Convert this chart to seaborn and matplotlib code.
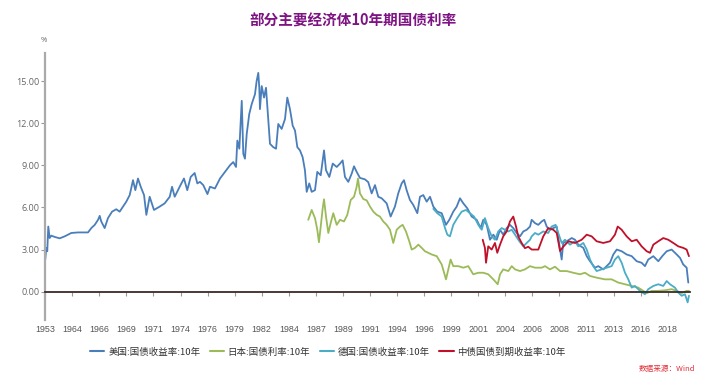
import numpy as np
import pandas as pd
import matplotlib
matplotlib.use("Agg")
import matplotlib.pyplot as plt
import seaborn as sns

# ---------------- data (decimal year, yield %) ----------------
us_date = [1953.34, 1953.75, 1954.15, 1954.56, 1955.13, 1955.78, 1957.16, 1959.19, 1961.22, 1963.91,
           1964.82, 1965.73, 1966.03, 1966.34, 1966.64, 1966.79, 1966.93, 1967.24, 1967.54, 1967.91,
           1968.29, 1968.60, 1968.90, 1969.20, 1969.51, 1969.81, 1970.02, 1970.26, 1970.51, 1970.81,
           1971.02, 1971.32, 1971.71, 1972.23, 1972.68, 1973.14, 1973.35, 1973.59, 1974.04, 1974.43,
           1974.73, 1975.04, 1975.40, 1975.64, 1975.88, 1976.18, 1976.56, 1976.79, 1977.24, 1977.70,
           1978.15, 1978.60, 1978.90, 1979.15, 1979.27, 1979.45, 1979.67, 1979.81, 1979.96, 1980.12,
           1980.35, 1980.57, 1980.87, 1981.02, 1981.17, 1981.26, 1981.32, 1981.48, 1981.69, 1981.87,
           1982.08, 1982.23, 1982.53, 1982.78, 1982.98, 1983.29, 1983.59, 1983.80, 1984.04, 1984.29,
           1984.50, 1984.71, 1984.95, 1985.19, 1985.40, 1985.56, 1985.79, 1986.01, 1986.31, 1986.52,
           1986.83, 1987.13, 1987.31, 1987.61, 1987.92, 1988.28, 1988.58, 1988.82, 1989.03, 1989.33,
           1989.64, 1989.85, 1990.09, 1990.39, 1990.84, 1991.14, 1991.45, 1991.75, 1992.05, 1992.36,
           1992.81, 1993.17, 1993.56, 1993.86, 1994.17, 1994.38, 1994.62, 1994.92, 1995.22, 1995.59,
           1995.83, 1996.13, 1996.44, 1996.74, 1997.04, 1997.40, 1997.80, 1998.19, 1998.49, 1998.85,
           1999.16, 1999.46, 1999.76, 2000.12, 2000.52, 2000.97, 2001.33, 2001.57, 2001.88, 2002.18,
           2002.48, 2002.79, 2003.09, 2003.38, 2003.69, 2003.99, 2004.29, 2004.60, 2004.90, 2005.20,
           2005.51, 2005.81, 2005.96, 2006.26, 2006.56, 2006.87, 2007.10, 2007.32, 2007.62, 2007.92,
           2008.23, 2008.53, 2008.68, 2008.82, 2009.13, 2009.59, 2009.89, 2010.18, 2010.64, 2010.95,
           2011.25, 2011.70, 2012.00, 2012.45, 2012.76, 2013.06, 2013.36, 2013.67, 2014.12, 2014.57,
           2015.03, 2015.48, 2015.93, 2016.23, 2016.53, 2016.99, 2017.44, 2017.80, 2018.20, 2018.65,
           2019.11, 2019.41, 2019.70, 2020.01, 2020.16]
us_yield = [2.29, 3.12, 2.88, 4.64, 3.82, 3.99, 3.90, 3.80, 3.94, 4.18,
            4.22, 4.22, 4.53, 4.76, 5.12, 5.40, 5.00, 4.53, 5.24, 5.70,
            5.87, 5.70, 6.06, 6.41, 6.88, 7.94, 7.23, 8.06, 7.47, 6.88,
            5.47, 6.76, 5.82, 6.06, 6.29, 6.76, 7.47, 6.76, 7.47, 8.06,
            7.23, 8.17, 8.45, 7.71, 7.82, 7.59, 6.95, 7.47, 7.35, 8.06,
            8.53, 9.00, 9.23, 8.88, 10.76, 10.18, 13.59, 9.82, 9.47, 11.23,
            12.65, 13.35, 14.06, 15.00, 15.58, 14.52, 13.00, 14.64, 13.82, 14.52,
            12.17, 10.53, 10.29, 10.18, 11.94, 11.59, 12.29, 13.82, 13.00, 11.82,
            11.47, 10.29, 10.06, 9.58, 8.65, 7.11, 7.71, 7.11, 7.23, 8.53,
            8.29, 10.06, 8.65, 8.17, 9.12, 8.88, 9.12, 9.35, 8.17, 7.82,
            8.41, 8.93, 8.53, 8.10, 8.00, 7.80, 7.00, 7.59, 6.76, 6.65,
            6.29, 5.35, 6.06, 7.00, 7.71, 7.94, 7.23, 6.53, 6.18, 5.59,
            6.76, 6.88, 6.41, 6.76, 6.06, 5.70, 5.59, 4.76, 5.12, 5.70,
            6.06, 6.65, 6.29, 5.94, 5.35, 5.12, 4.53, 5.12, 4.76, 3.70,
            4.06, 3.70, 4.41, 4.06, 4.53, 4.76, 4.53, 4.18, 3.94, 4.29,
            4.41, 4.64, 5.12, 4.88, 4.76, 5.00, 5.12, 4.64, 4.40, 4.53,
            4.64, 3.00, 2.29, 3.47, 3.59, 3.82, 3.70, 3.35, 3.12, 2.53,
            2.17, 1.71, 1.82, 1.59, 1.82, 2.06, 2.65, 3.00, 2.88, 2.65,
            2.53, 2.17, 2.06, 1.82, 2.29, 2.53, 2.17, 2.53, 2.88, 3.00,
            2.65, 2.41, 1.94, 1.71, 0.65]

jp_date = [1985.70, 1986.01, 1986.31, 1986.52, 1986.67, 1986.83, 1987.01, 1987.13, 1987.31, 1987.52,
           1987.73, 1987.97, 1988.28, 1988.58, 1988.94, 1989.24, 1989.55, 1989.85, 1990.09, 1990.21,
           1990.39, 1990.69, 1991.00, 1991.30, 1991.60, 1991.91, 1992.20, 1992.50, 1992.81, 1993.11,
           1993.41, 1993.72, 1994.02, 1994.26, 1994.56, 1994.86, 1995.08, 1995.38, 1995.68, 1995.99,
           1996.28, 1996.58, 1996.89, 1997.35, 1997.80, 1998.19, 1998.40, 1998.61, 1998.85, 1999.30,
           1999.76, 2000.21, 2000.66, 2001.12, 2001.57, 2002.02, 2002.48, 2002.88, 2003.09, 2003.38,
           2003.84, 2004.15, 2004.45, 2004.90, 2005.35, 2005.81, 2006.26, 2006.87, 2007.17, 2007.62,
           2008.07, 2008.53, 2009.13, 2009.73, 2010.34, 2010.79, 2011.25, 2011.85, 2012.60, 2013.21,
           2013.81, 2014.42, 2015.03, 2015.62, 2016.08, 2016.39, 2016.84, 2017.44, 2018.05, 2018.65,
           2019.11, 2019.56, 2020.01, 2020.22]
jp_yield = [5.12, 5.82, 5.24, 4.41, 3.52, 4.64, 5.94, 6.58, 5.35, 4.18,
            4.88, 5.59, 4.76, 5.12, 5.00, 5.47, 6.53, 6.76, 7.47, 8.06,
            7.00, 6.60, 6.50, 6.06, 5.70, 5.47, 5.35, 5.00, 4.76, 4.41,
            3.47, 4.41, 4.64, 4.76, 4.29, 3.59, 3.00, 3.12, 3.35, 3.12,
            2.88, 2.77, 2.65, 2.53, 1.94, 0.88, 1.59, 2.29, 1.82, 1.82,
            1.71, 1.82, 1.24, 1.35, 1.35, 1.24, 0.88, 0.53, 1.24, 1.59,
            1.47, 1.82, 1.59, 1.47, 1.59, 1.82, 1.71, 1.71, 1.82, 1.59,
            1.78, 1.47, 1.47, 1.35, 1.24, 1.35, 1.12, 1.00, 0.88, 0.88,
            0.65, 0.53, 0.41, 0.29, 0.06, -0.10, 0.06, 0.06, 0.10, 0.18,
            0.06, -0.10, 0.06, 0.06]

de_date = [1997.04, 1997.40, 1997.80, 1998.10, 1998.31, 1998.55, 1998.85, 1999.21, 1999.61, 2000.00,
           2000.36, 2000.73, 2001.12, 2001.43, 2001.72, 2002.02, 2002.33, 2002.63, 2002.93, 2003.24,
           2003.54, 2003.84, 2004.15, 2004.45, 2004.84, 2005.20, 2005.51, 2005.81, 2005.96, 2006.26,
           2006.56, 2007.01, 2007.46, 2007.77, 2008.13, 2008.37, 2008.68, 2008.98, 2009.43, 2009.89,
           2010.18, 2010.64, 2010.95, 2011.25, 2011.54, 2011.85, 2012.31, 2012.76, 2013.21, 2013.51,
           2013.81, 2014.12, 2014.42, 2014.72, 2015.03, 2015.32, 2015.78, 2016.23, 2016.53, 2016.99,
           2017.44, 2017.89, 2018.20, 2018.50, 2018.95, 2019.25, 2019.56, 2019.86, 2020.10, 2020.22]
de_yield = [5.90, 5.59, 5.35, 4.53, 4.06, 3.94, 4.76, 5.24, 5.70, 5.82,
            5.59, 5.35, 4.76, 4.41, 5.24, 4.53, 3.94, 3.70, 4.29, 4.53,
            4.41, 4.29, 4.41, 4.06, 3.59, 3.23, 3.47, 3.70, 3.94, 4.18,
            4.06, 4.29, 4.18, 4.64, 4.76, 4.18, 3.47, 3.70, 3.35, 3.59,
            3.23, 3.47, 3.00, 2.29, 1.82, 1.47, 1.59, 1.71, 1.82, 2.29,
            2.53, 2.06, 1.35, 0.88, 0.29, 0.41, 0.06, -0.18, 0.18, 0.41,
            0.53, 0.41, 0.76, 0.53, 0.29, -0.06, -0.29, -0.18, -0.76, -0.29]

cn_date = [2001.52, 2001.72, 2001.82, 2002.02, 2002.33, 2002.63, 2002.84, 2003.09, 2003.38, 2003.69,
           2003.99, 2004.29, 2004.54, 2004.74, 2005.05, 2005.35, 2005.65, 2005.96, 2006.56, 2007.01,
           2007.46, 2007.92, 2008.23, 2008.53, 2008.82, 2009.28, 2009.89, 2010.49, 2010.95, 2011.40,
           2011.85, 2012.45, 2013.06, 2013.51, 2013.76, 2014.12, 2014.57, 2015.03, 2015.48, 2015.93,
           2016.39, 2016.69, 2016.99, 2017.44, 2017.89, 2018.34, 2018.80, 2019.25, 2019.70, 2020.01,
           2020.22]
cn_yield = [3.70, 3.12, 2.06, 3.23, 3.00, 3.47, 2.77, 3.35, 3.94, 4.29,
            5.00, 5.35, 4.64, 3.94, 3.47, 3.10, 3.20, 3.00, 3.00, 3.94,
            4.53, 4.41, 4.18, 2.90, 3.20, 3.59, 3.47, 3.70, 4.06, 3.94,
            3.59, 3.47, 3.59, 4.06, 4.64, 4.41, 3.94, 3.59, 3.70, 3.23,
            2.88, 2.77, 3.35, 3.59, 3.82, 3.70, 3.47, 3.23, 3.12, 3.00,
            2.53]

series_names = ["美国:国债收益率:10年", "日本:国债利率:10年", "德国:国债收益率:10年", "中债国债到期收益率:10年"]
series_colors = ["#4A7EBB", "#9BBB59", "#4BACC6", "#C0102A"]
tick_labels = ["1953", "1964", "1966", "1969", "1971", "1974", "1976", "1979", "1982", "1984",
               "1987", "1989", "1991", "1994", "1996", "1999", "2001", "2004", "2006", "2008",
               "2011", "2013", "2016", "2018"]

# category-axis scale: sparse data before 1964, then evenly spaced trading days
anchor_years = [1953.3, 1964.3, 2020.3]
anchor_pos = [0.0, 1.0, 1.0 + (2020.3 - 1964.3) / 2.4545]


def cat_pos(d):
    return np.interp(np.asarray(d, dtype=float), anchor_years, anchor_pos)


frames = []
for name, d, v in zip(series_names,
                      [us_date, jp_date, de_date, cn_date],
                      [us_yield, jp_yield, de_yield, cn_yield]):
    frames.append(pd.DataFrame({"pos": cat_pos(d), "value": v, "series": name}))
df = pd.concat(frames, ignore_index=True)

# ---------------- figure ----------------
sns.set_theme(style="white")
plt.rcParams["font.family"] = ["Noto Sans CJK SC", "DejaVu Sans"]

fig = plt.figure(figsize=(7.07, 3.75), dpi=100)
ax = fig.add_axes([0.0639, 0.1472, 0.912, 0.7117])

sns.lineplot(data=df, x="pos", y="value", hue="series", hue_order=series_names,
             palette=series_colors, estimator=None, sort=False, linewidth=1.3,
             legend=False, ax=ax)

ax.set_xlim(0, 23.82)
ax.set_ylim(-2, 17)
ax.set_xlabel("")
ax.set_ylabel("")

# y axis
ax.set_yticks([0, 3, 6, 9, 12, 15])
ax.set_yticklabels(["0.00", "3.00", "6.00", "9.00", "12.00", "15.00"],
                   fontsize=6.5, color="#666666", family=["Open Sans", "DejaVu Sans"])
ax.tick_params(axis="y", length=3, width=0.8, color="#999999", pad=1, left=True)
for s in ["top", "right"]:
    ax.spines[s].set_visible(False)
ax.spines["left"].set_color("#aaaaaa")
ax.spines["left"].set_linewidth(1.6)

# x axis line on zero with ticks, labels at bottom
ax.spines["bottom"].set_position(("data", 0))
ax.spines["bottom"].set_color("#3a2a28")
ax.spines["bottom"].set_linewidth(1.3)
ax.spines["bottom"].set_zorder(5)
ax.set_xticks(range(len(tick_labels)))
ax.set_xticklabels([])
ax.tick_params(axis="x", length=3, width=0.8, color="#999999", bottom=True, direction="out")

sec = ax.secondary_xaxis("bottom")
sec.spines["bottom"].set_visible(False)
sec.set_xticks(range(len(tick_labels)))
sec.set_xticklabels(tick_labels, fontsize=6.4, color="#555555",
                    family=["Liberation Sans", "DejaVu Sans"])
sec.tick_params(axis="x", length=0, pad=4)

ax.grid(False)

# texts
fig.text(0.5, 1 - 20.5 / 375, "部分主要经济体10年期国债利率", ha="center", va="center",
         fontsize=10.5, fontweight="bold", color="#7E1483")
fig.text(44 / 707, 1 - 40 / 375, "%", ha="center", va="center", fontsize=5.5, color="#666666",
         family=["Open Sans", "DejaVu Sans"])
fig.text(695 / 707, 1 - 369 / 375, "数据来源：Wind", ha="right", va="center", fontsize=5.5,
         color="#E0303A", style="italic")

handles = [plt.Line2D([], [], color=c, linewidth=1.5) for c in series_colors]
fig.legend(handles, series_names, loc="center", bbox_to_anchor=(328 / 707, 1 - 352 / 375),
           ncol=4, frameon=False, fontsize=6.8, handlelength=1.5, handletextpad=0.4,
           columnspacing=1.0, labelcolor="#333333")

fig.savefig("out.png", dpi=100)
